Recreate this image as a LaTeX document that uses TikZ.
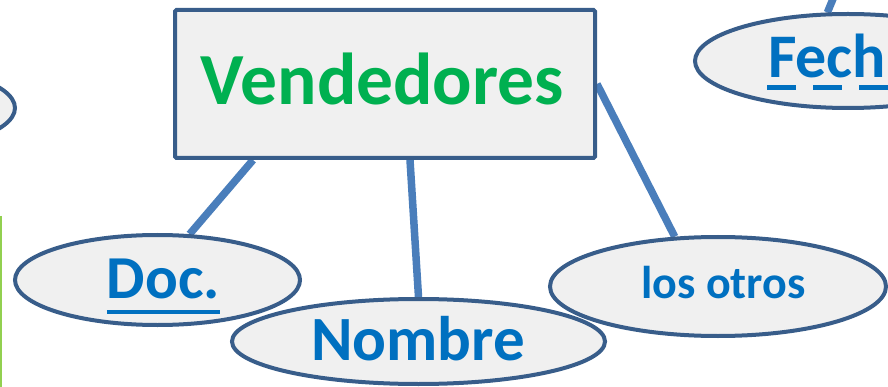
\documentclass[tikz,border=0pt]{standalone}
\usepackage{fontspec}
\setmainfont{Carlito}
\usetikzlibrary{shapes.geometric,calc,backgrounds}
\definecolor{bordc}{HTML}{385D8A}
\definecolor{linkc}{HTML}{4A7EBB}
\definecolor{fillc}{HTML}{F0F0F0}
\definecolor{txtblue}{HTML}{0070C0}
\definecolor{txtgreen}{HTML}{00B050}
\definecolor{lgreen}{HTML}{92D050}
\tikzset{
  ent/.style={draw=bordc, fill=fillc, line width=4pt, rounded corners=1.5pt,
    minimum width=420pt, minimum height=148pt, inner sep=0pt},
  attr/.style={ellipse, draw=bordc, fill=fillc, line width=4pt, inner sep=0pt},
  lbl/.style={inner sep=0pt, anchor=base, font=\bfseries, text=txtblue},
  link/.style={draw=linkc, line width=7.5pt},
}
\begin{document}
\begin{tikzpicture}[x=1pt,y=-1pt]
\useasboundingbox (0,0) rectangle (888,387);
% side line
\draw[lgreen, line width=2pt] (1,216) -- (1,392);
% entity
\node[ent] (v) at (385,84) {};
\node[inner sep=0pt, anchor=base, text=txtgreen, font=\bfseries\fontsize{73.5}{76}\selectfont] (vt) at (382.5,104.5) {Vendedores};
% attributes
\node[attr, minimum width=290pt, minimum height=90pt] (lft) at (-130,108) {};
\node[attr, minimum width=306pt, minimum height=94pt] (fech) at (848,61) {};
\node[attr, minimum width=285pt, minimum height=90pt] (doc) at (157.5,280) {};
\node[attr, minimum width=336pt, minimum height=99pt] (otros) at (718,286.5) {};
\node[attr, minimum width=373pt, minimum height=85pt] (nombre) at (418.5,341.5) {};
% labels
\node[lbl, font=\bfseries\fontsize{61}{63}\selectfont] (doct) at (163.5,298) {Doc.};
\node[lbl, font=\bfseries\fontsize{63}{65}\selectfont] (nombret) at (418,360) {Nombre};
\node[lbl, font=\bfseries\fontsize{46}{48}\selectfont] (otrost) at (723.5,298) {los otros};
\node[lbl, anchor=base west, font=\bfseries\fontsize{62}{64}\selectfont] (fecht) at (768,78) {Fech};
% key underlines
\draw[txtblue, line width=5pt, dash pattern=on 29pt off 17pt] ($(fecht.base west)+(-1,10)$) -- ++(140,0);
\draw[txtblue, line width=4pt] ($(doct.base west)+(0,14)$) -- ($(doct.base east)+(0,14)$);
% connectors
\coordinate (ftop) at (835,-6);
\begin{pgfonlayer}{background}
\draw[link] ($(v.south west)+(80,0)$) -- (doc.55);
\draw[link] ($(v.south west)+(237,0)$) -- (nombre.north);
\draw[link] (v.east) -- (otros.131);
\draw[link] (ftop) -- (fech.113);
\end{pgfonlayer}
\end{tikzpicture}
\end{document}
